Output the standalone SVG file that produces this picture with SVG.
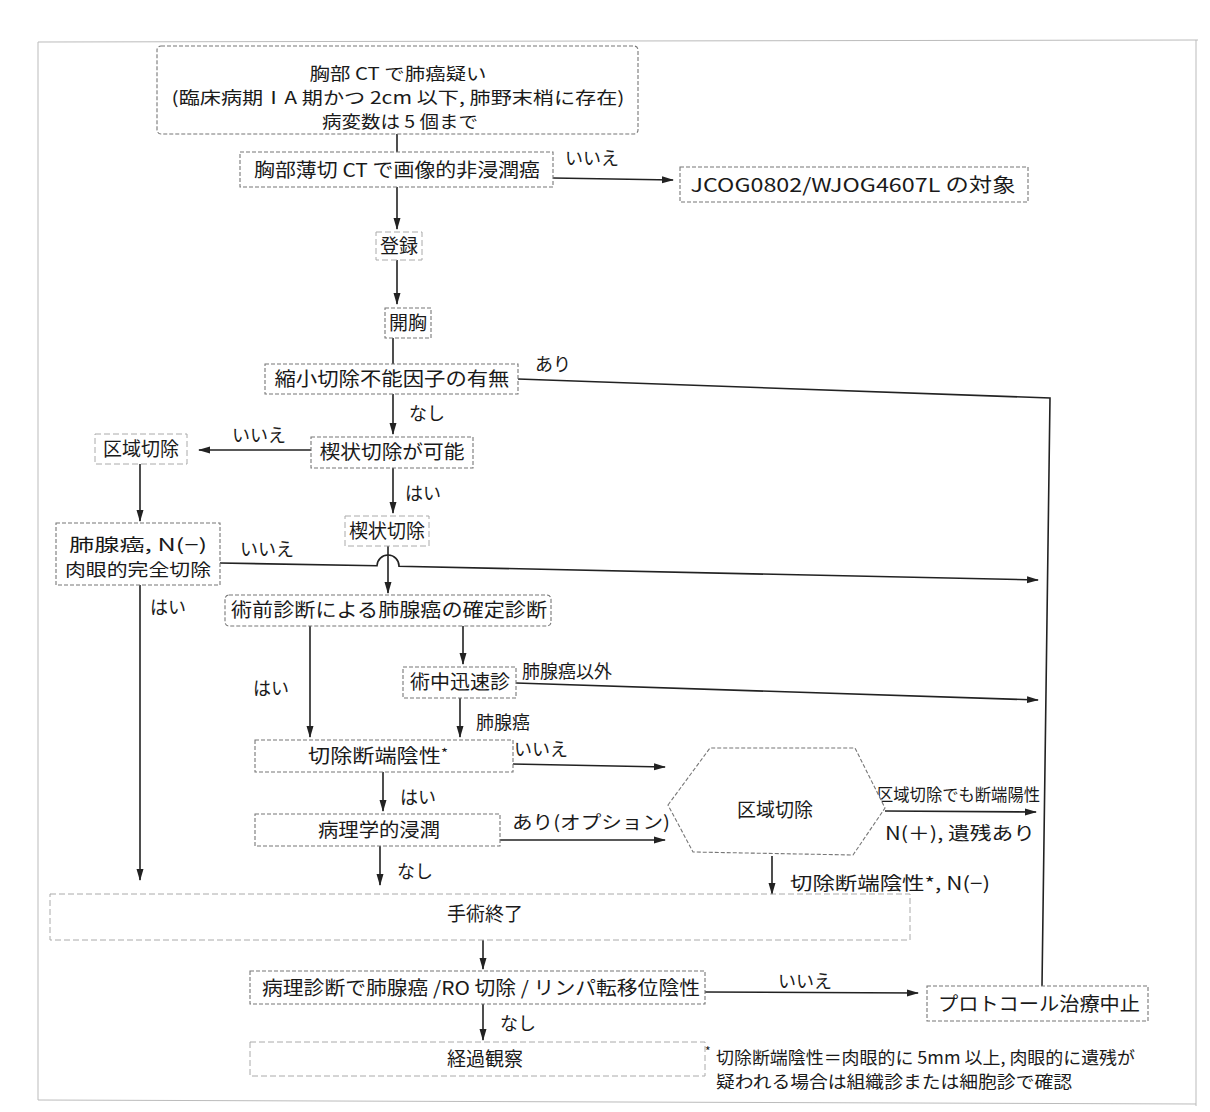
<svg xmlns="http://www.w3.org/2000/svg" width="1210" height="1112" viewBox="0 0 1210 1112">
<defs>
<marker id="ah" markerWidth="12" markerHeight="8" refX="11" refY="4" orient="auto" markerUnits="userSpaceOnUse">
<path d="M0,0.5 L12,4 L0,7.5 Z" fill="#222"/>
</marker>
<style>
.box{fill:#fff;stroke:#777;stroke-width:1.1;stroke-dasharray:4 2}
.faint{fill:none;stroke:#aaa;stroke-width:1;stroke-dasharray:6 3}
.t{font-family:"Noto Sans CJK JP","Noto Sans",sans-serif;font-size:19px;fill:#1a1a1a;text-anchor:middle}
.l{font-family:"Noto Sans CJK JP","Noto Sans",sans-serif;font-size:18px;fill:#1a1a1a}
.fn{font-family:"Noto Sans CJK JP","Noto Sans",sans-serif;font-size:17px;fill:#1a1a1a}
.c{fill:none;stroke:#222;stroke-width:1.6}
.a{fill:none;stroke:#222;stroke-width:1.6;marker-end:url(#ah)}
.frame{fill:none;stroke:#bbb;stroke-width:1}
</style>
</defs>
<rect width="1210" height="1112" fill="#fff"/>
<path class="frame" d="M38,42 L1198,40 M38,42 L38,1100 M1196,40 L1196,1106 M38,1100 L1196,1104"/>

<g id="connectors">
<path class="c" d="M397,134 L397,152"/>
<path class="a" d="M397,187 L397,229"/>
<path class="a" d="M553,178 L673,180"/>
<path class="a" d="M397,260 L397,304"/>
<path class="c" d="M393,338 L393,364"/>
<path class="c" d="M518,379 L1050,398 L1042,986"/>
<path class="a" d="M393,394 L393,434"/>
<path class="a" d="M311,450 L199,450"/>
<path class="a" d="M393,468 L393,513"/>
<path class="a" d="M140,464 L140,521"/>
<path class="a" d="M388,546 L388,593"/>
<path class="a" d="M220,563 L377,565.8 A11,11 0 0 1 399,566.2 L1038,580"/>
<path class="a" d="M140,584 L140,880"/>
<path class="a" d="M310,626 L310,737"/>
<path class="a" d="M463,626 L463,664"/>
<path class="a" d="M516,683 L1038,700"/>
<path class="a" d="M460,698 L460,737"/>
<path class="a" d="M512,764 L665,767"/>
<path class="a" d="M383,772 L383,811"/>
<path class="a" d="M500,840 L665,840"/>
<path class="a" d="M380,846 L380,885"/>
<path class="a" d="M885,811 L1036,812"/>
<path class="a" d="M772,856 L772,894"/>
<path class="a" d="M483,940 L483,969"/>
<path class="a" d="M705,992 L918,993"/>
<path class="a" d="M483,1004 L483,1040"/>
</g>

<g id="labels">
<text class="l" x="565" y="165">いいえ</text>
<text class="l" x="535" y="371">あり</text>
<text class="l" x="409" y="420">なし</text>
<text class="l" x="232" y="442">いいえ</text>
<text class="l" x="405" y="500">はい</text>
<text class="l" x="240" y="556">いいえ</text>
<text class="l" x="150" y="614">はい</text>
<text class="l" x="253" y="695">はい</text>
<text class="l" x="522" y="678">肺腺癌以外</text>
<text class="l" x="476" y="729">肺腺癌</text>
<text class="l" x="514" y="756">いいえ</text>
<text class="l" x="400" y="804">はい</text>
<text class="l" x="512" y="829" textLength="158" lengthAdjust="spacingAndGlyphs">あり(オプション)</text>
<text class="l" x="397" y="878">なし</text>
<text class="l" x="877" y="801" style="font-size:17px" textLength="163" lengthAdjust="spacingAndGlyphs">区域切除でも断端陽性</text>
<text class="l" x="885" y="840" textLength="150" lengthAdjust="spacingAndGlyphs">N(＋), 遺残あり</text>
<text class="l" x="790" y="890" textLength="200" lengthAdjust="spacingAndGlyphs">切除断端陰性*, N(−)</text>
<text class="l" x="778" y="988">いいえ</text>
<text class="l" x="500" y="1030">なし</text>
</g>

<g id="n1">
<rect class="box" x="157" y="46" width="481" height="88" rx="4"/>
<text class="t" x="398" y="80" style="font-size:17px" textLength="177" lengthAdjust="spacingAndGlyphs">胸部 CT で肺癌疑い</text>
<text class="t" x="398" y="104" style="font-size:17px" textLength="453" lengthAdjust="spacingAndGlyphs">(臨床病期ⅠA 期かつ 2cm 以下, 肺野末梢に存在)</text>
<text class="t" x="400" y="128" style="font-size:17px" textLength="156" lengthAdjust="spacingAndGlyphs">病変数は 5 個まで</text>
</g>
<g id="n2">
<rect class="box" x="240" y="152" width="313" height="35"/>
<text class="t" x="397" y="177" textLength="286" lengthAdjust="spacingAndGlyphs">胸部薄切 CT で画像的非浸潤癌</text>
</g>
<g id="n3">
<rect class="box" x="680" y="167" width="348" height="35"/>
<text class="t" x="853" y="192" textLength="325" lengthAdjust="spacingAndGlyphs">JCOG0802/WJOG4607L の対象</text>
</g>
<g id="n4">
<rect class="faint" x="376" y="232" width="46" height="28"/>
<text class="t" x="399" y="253">登録</text>
</g>
<g id="n5">
<rect class="box" x="385" y="308" width="46" height="30"/>
<text class="t" x="408" y="330">開胸</text>
</g>
<g id="n6">
<rect class="box" x="265" y="364" width="253" height="30"/>
<text class="t" x="392" y="386" textLength="235" lengthAdjust="spacingAndGlyphs">縮小切除不能因子の有無</text>
</g>
<g id="n7">
<rect class="box" x="311" y="437" width="162" height="31"/>
<text class="t" x="392" y="459" textLength="145" lengthAdjust="spacingAndGlyphs">楔状切除が可能</text>
</g>
<g id="n8">
<rect class="faint" x="95" y="434" width="92" height="30"/>
<text class="t" x="141" y="456">区域切除</text>
</g>
<g id="n9">
<rect class="faint" x="345" y="516" width="84" height="30"/>
<text class="t" x="387" y="538">楔状切除</text>
</g>
<g id="n10">
<rect class="box" x="56" y="523" width="164" height="62"/>
<text class="t" x="138" y="551" style="font-size:17px" textLength="138" lengthAdjust="spacingAndGlyphs">肺腺癌, N(−)</text>
<text class="t" x="138" y="576" style="font-size:17px" textLength="146" lengthAdjust="spacingAndGlyphs">肉眼的完全切除</text>
</g>
<g id="n11">
<rect class="box" x="225" y="595" width="326" height="31" rx="4"/>
<text class="t" x="389" y="617" textLength="316" lengthAdjust="spacingAndGlyphs">術前診断による肺腺癌の確定診断</text>
</g>
<g id="n12">
<rect class="box" x="403" y="667" width="113" height="31"/>
<text class="t" x="460" y="689" textLength="100" lengthAdjust="spacingAndGlyphs">術中迅速診</text>
</g>
<g id="n13">
<rect class="box" x="255" y="740" width="258" height="32"/>
<text class="t" x="378" y="763" textLength="140" lengthAdjust="spacingAndGlyphs">切除断端陰性<tspan style="font-size:13px" dy="-5">*</tspan></text>
</g>
<g id="n14">
<rect class="box" x="255" y="814" width="245" height="32"/>
<text class="t" x="379" y="837" textLength="122" lengthAdjust="spacingAndGlyphs">病理学的浸潤</text>
</g>
<g id="n15">
<polygon class="box" points="668,805 710,748 855,748 885,808 853,855 693,852"/>
<text class="t" x="775" y="817">区域切除</text>
</g>
<g id="n16">
<rect class="faint" x="50" y="894" width="860" height="46"/>
<text class="t" x="485" y="921">手術終了</text>
</g>
<g id="n17">
<rect class="box" x="250" y="971" width="455" height="33"/>
<text class="t" x="481" y="995" textLength="438" lengthAdjust="spacingAndGlyphs">病理診断で肺腺癌 /RO 切除 / リンパ転移位陰性</text>
</g>
<g id="n18">
<rect class="box" x="927" y="986" width="221" height="35"/>
<text class="t" x="1039" y="1011" textLength="202" lengthAdjust="spacingAndGlyphs">プロトコール治療中止</text>
</g>
<g id="n19">
<rect class="faint" x="250" y="1042" width="455" height="34"/>
<text class="t" x="485" y="1066">経過観察</text>
</g>
<g id="footnote">
<text class="fn" x="705" y="1056" style="font-size:12px">*</text>
<text class="fn" x="716" y="1064" textLength="419" lengthAdjust="spacingAndGlyphs">切除断端陰性＝肉眼的に 5mm 以上, 肉眼的に遺残が</text>
<text class="fn" x="716" y="1088" textLength="356" lengthAdjust="spacingAndGlyphs">疑われる場合は組織診または細胞診で確認</text>
</g>
</svg>
